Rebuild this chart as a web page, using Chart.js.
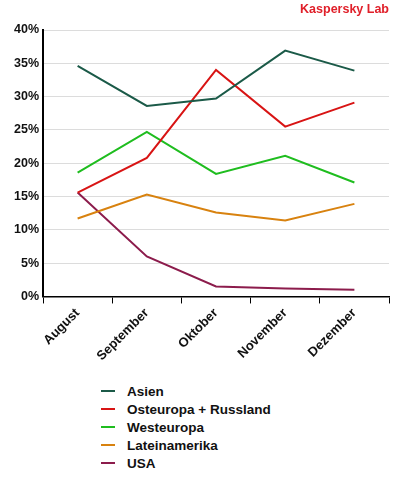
<!DOCTYPE html>
<html>
<head>
<meta charset="utf-8">
<script src="https://cdn.jsdelivr.net/npm/chart.js@4.4.0/dist/chart.umd.min.js"></script>
<style>
  body { margin: 0; background: #fff; font-family: "Liberation Sans", Arial, sans-serif; }
  #wrap { position: relative; width: 400px; height: 372px; }
  #legend { list-style: none; margin: 0; padding: 0; position: absolute; left: 101px; top: 383px; }
  #legend li { height: 18px; line-height: 18px; font-weight: bold; font-size: 13.5px; color: #111; }
  #legend span { display: inline-block; width: 14px; height: 2px; vertical-align: middle; margin-right: 12px; position: relative; top: -1px; }
</style>
</head>
<body>
<div id="wrap"><canvas id="lineChart"></canvas></div>
<ul id="legend"></ul>
<script>
/*global Chart, document*/
(function () {

    'use strict';

    var months = ["August", "September", "Oktober", "November", "Dezember"];
    var asien = [34.6, 28.6, 29.7, 36.9, 33.9];
    var osteuropa = [15.6, 20.8, 34.0, 25.5, 29.1];
    var westeuropa = [18.6, 24.7, 18.4, 21.1, 17.1];
    var lateinamerika = [11.7, 15.3, 12.6, 11.4, 13.9];
    var usa = [15.6, 6.0, 1.5, 1.2, 1.0];

    // one line style for all series
    function series(label, color, values) {
        return {
            label: label,
            data: values,
            borderColor: color,
            backgroundColor: color,
            borderWidth: 2,
            pointRadius: 0,
            tension: 0,
            fill: false
        };
    }

    var LINECHART = document.getElementById('lineChart');
    var myLineChart = new Chart(LINECHART, {
        type: 'line',
        data: {
            labels: months,
            datasets: [
                series("Asien", "#1b5a48", asien),
                series("Osteuropa + Russland", "#d81414", osteuropa),
                series("Westeuropa", "#1fbd1f", westeuropa),
                series("Lateinamerika", "#d8820f", lateinamerika),
                series("USA", "#8c1c4c", usa)
            ]
        },
        options: {
            responsive: true,
            maintainAspectRatio: false,
            animation: false,
            layout: { padding: { top: 0, right: 11, left: 10, bottom: 6 } },
            plugins: {
                legend: { display: false },
                tooltip: { enabled: false },
                title: {
                    display: true,
                    text: 'Kaspersky Lab',
                    align: 'end',
                    color: '#e0202a',
                    font: { family: 'Liberation Sans', size: 12.5, weight: 'bold' },
                    padding: { top: 2, bottom: 13 }
                }
            },
            scales: {
                x: {
                    offset: true,
                    grid: {
                        offset: true,
                        drawOnChartArea: false,
                        drawTicks: true,
                        tickLength: 7,
                        color: '#000'
                    },
                    border: { color: '#000', width: 1.5 },
                    ticks: {
                        color: '#111',
                        minRotation: 45,
                        maxRotation: 45,
                        padding: 2,
                        font: { family: 'Liberation Sans', size: 13, weight: 'bold' }
                    }
                },
                y: {
                    min: 0,
                    max: 40,
                    grid: { color: '#dcdcdc', drawTicks: false },
                    border: { color: '#000', width: 2 },
                    ticks: {
                        stepSize: 5,
                        padding: 4,
                        color: '#111',
                        font: { family: 'Liberation Sans', size: 12.5, weight: 'bold' },
                        callback: function (v) { return v + '%'; }
                    }
                }
            }
        }
    });

    // vertical legend below the chart
    var legend = document.getElementById('legend');
    myLineChart.data.datasets.forEach(function (ds) {
        var li = document.createElement('li');
        var sw = document.createElement('span');
        sw.style.background = ds.borderColor;
        li.appendChild(sw);
        li.appendChild(document.createTextNode(ds.label));
        legend.appendChild(li);
    });

}());
</script>
</body>
</html>
